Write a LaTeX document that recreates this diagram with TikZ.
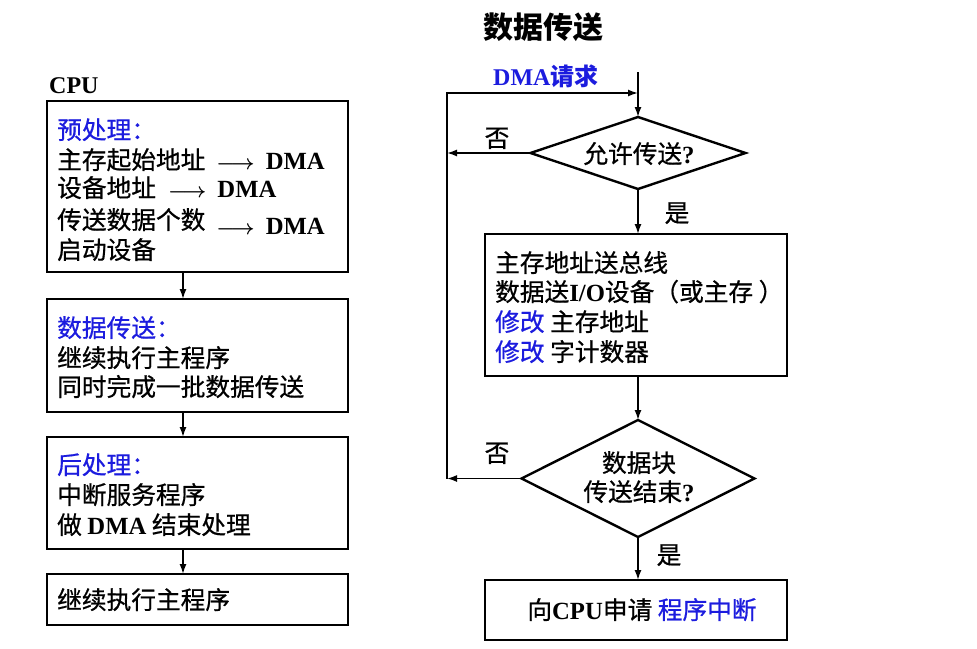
\documentclass[tikz,border=0pt]{standalone}
\usepackage{fontspec}
\setmainfont{Liberation Serif}
\newfontfamily\zh{Noto Sans CJK SC}[FakeBold=0.7]
\newfontfamily\zhb{Noto Sans CJK SC}
\usetikzlibrary{shapes.geometric,arrows.meta}

\definecolor{hd}{RGB}{28,28,222}
% Latin words set in bold serif inside the Chinese text
\newcommand\lat[1]{{\rmfamily\bfseries #1}}
% short arrow used inside the text lines
\newcommand\sendto{{\fontsize{20}{24}\selectfont\boldmath$\longrightarrow$}}

\tikzset{
  box/.style={draw, line width=2.4pt, inner sep=0pt, outer sep=0pt},
  dec/.style={diamond, draw, line width=2.4pt, inner sep=0pt, outer sep=0pt},
  txt/.style={anchor=base west, inner sep=0pt, font=\zh\fontsize{24.7}{28}\selectfont},
  ctxt/.style={anchor=base, inner sep=0pt, font=\zh\fontsize{24.7}{28}\selectfont},
  flow/.style={line width=1.6pt, -{Latex[length=10pt,width=7pt]}},
  link/.style={line width=1.6pt}
}

\begin{document}
\begin{tikzpicture}[x=1pt,y=-1pt]
\useasboundingbox (0,0) rectangle (977,648);

% ---------------- title ----------------
\node[ctxt, font=\zhb\bfseries\fontsize{30}{34}\selectfont] (title) at (543,38) {数据传送};

% ---------------- CPU side ----------------
\node[txt, font=\rmfamily\bfseries\fontsize{24}{28}\selectfont] (cpu) at (49,93) {CPU};

\node[box, minimum width=301pt, minimum height=171pt] (b1) at (197.5,186.5) {};
\node[box, minimum width=301pt, minimum height=113pt] (b2) at (197.5,355.5) {};
\node[box, minimum width=301pt, minimum height=112pt] (b3) at (197.5,493) {};
\node[box, minimum width=301pt, minimum height=51pt]  (b4) at (197.5,599.5) {};

\node[txt, text=hd] (p0) at (57,139) {预处理：};
\node[txt] (p1) at (57,169) {主存起始地址\hspace{11pt}\sendto\hspace{11pt}\lat{DMA}};
\node[txt] (p2) at (57,197) {设备地址\hspace{12pt}\sendto\hspace{11pt}\lat{DMA}};
\node[txt] (p3) at (57,229) {传送数据个数\hspace{11pt}\raisebox{-5pt}{\sendto\hspace{11pt}\lat{DMA}}};
\node[txt] (p4) at (57,259) {启动设备};

\node[txt, text=hd] (t0) at (57,337) {数据传送：};
\node[txt] (t1) at (57,367) {继续执行主程序};
\node[txt] (t2) at (57,396) {同时完成一批数据传送};

\node[txt, text=hd] (h0) at (57,474) {后处理：};
\node[txt] (h1) at (57,504) {中断服务程序};
\node[txt] (h2) at (57,534) {做 \lat{DMA} 结束处理};

\node[txt] (c1) at (57,609) {继续执行主程序};

\coordinate (ax) at (183,0);
\draw[flow] (b1.south -| ax) -- (b2.north -| ax);
\draw[flow] (b2.south -| ax) -- (b3.north -| ax);
\draw[flow] (b3.south -| ax) -- (b4.north -| ax);

% ---------------- DMA side ----------------
\node[txt, text=hd, font=\zhb\bfseries\fontsize{24}{28}\selectfont] (req) at (493,85) {\lat{DMA}请求};

\coordinate (rx) at (638,0);
\coordinate (start) at (638,72);

\node[dec, minimum width=215pt, minimum height=72pt] (d1) at (638,153) {};
\node[ctxt] (d1t) at (639,163) {允许传送{\rmfamily\bfseries ?}};

\node[box, minimum width=302pt, minimum height=142pt] (r1) at (636,305) {};
\node[txt] (r1a) at (495,272) {主存地址送总线};
\node[txt] (r1b) at (495,301) {数据送\lat{I/O}设备（或主存 ）};
\node[txt] (r1c) at (495,331) {\textcolor{hd}{修改} 主存地址};
\node[txt] (r1d) at (495,361) {\textcolor{hd}{修改} 字计数器};

\node[dec, minimum width=233pt, minimum height=117pt] (d2) at (638,478.5) {};
\node[ctxt] (d2a) at (639,472) {数据块};
\node[ctxt] (d2b) at (639,501) {传送结束{\rmfamily\bfseries ?}};

\node[box, minimum width=302pt, minimum height=60pt] (r2) at (636,610) {};
\node[ctxt] (r2t) at (642,619) {向\lat{CPU}申请 \textcolor{hd}{程序中断}};

% branch labels
\node[ctxt] (no1) at (497,147) {否};
\node[ctxt] (no2) at (497,462) {否};
\node[ctxt] (yes1) at (677,222) {是};
\node[ctxt] (yes2) at (669,564) {是};

% main flow
\draw[flow] (start) -- (d1.north);
\draw[flow] (d1.south) -- (r1.north -| rx);
\draw[flow] (r1.south -| rx) -- (d2.north);
\draw[flow] (d2.south) -- (r2.north -| rx);

% "no" branches and the return loop
\coordinate (lb) at (447,478.5);
\coordinate (lt) at (447,93);
\draw[flow] (d1.west) -- (d1.west -| lb);
\draw[flow] (d2.west) -- (lb);
\draw[flow] (lb) -- (lt) -- (lt -| rx);
\end{tikzpicture}
\end{document}
